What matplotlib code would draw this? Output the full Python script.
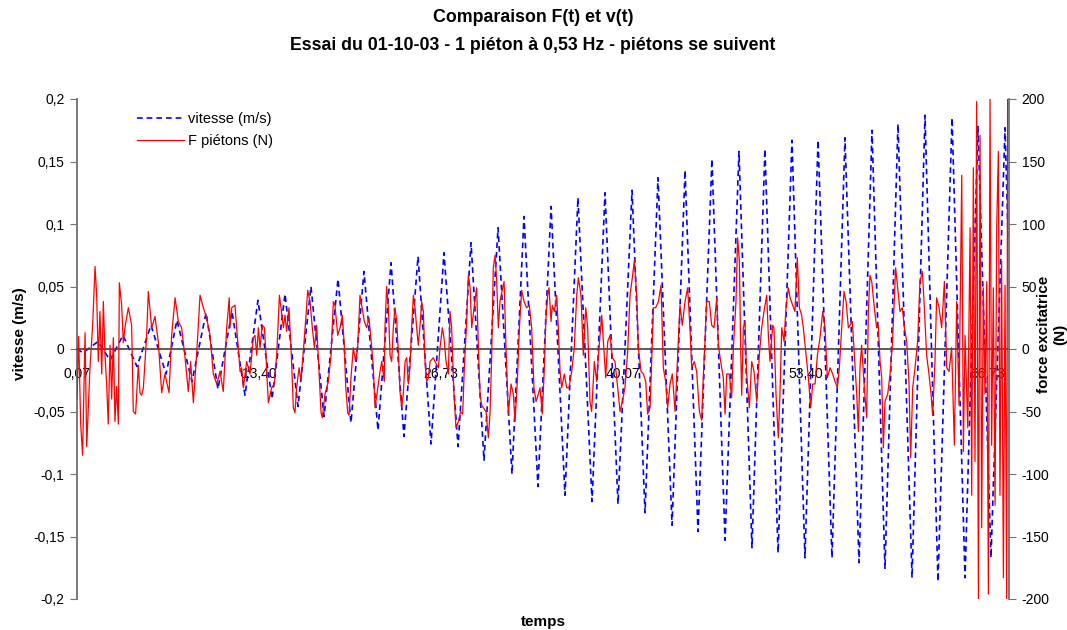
import matplotlib
matplotlib.use('Agg')
import matplotlib.pyplot as plt

plt.rcParams['font.family'] = ['Liberation Sans', 'DejaVu Sans']
plt.rcParams['axes.unicode_minus'] = False

# vitesse (m/s) : crêtes et creux
t_vit = [0.07, 0.51, 1.61, 2.49, 3.44, 4.46, 5.49, 6.59, 7.39, 8.49,
         9.52, 10.39, 11.42, 12.37, 13.32, 14.35, 15.30, 16.25, 17.20, 18.16,
         19.18, 20.13, 21.08, 22.11, 23.06, 24.01, 25.04, 25.99, 26.94, 27.97,
         28.92, 29.87, 30.90, 31.92, 32.80, 33.82, 34.78, 35.80, 36.75, 37.78,
         38.73, 39.68, 40.71, 41.66, 42.61, 43.64, 44.59, 45.54, 46.56, 47.52,
         48.54, 49.49, 50.44, 51.40, 52.42, 53.37, 54.33, 55.35, 56.30, 57.33,
         58.28, 59.23, 60.18, 61.21, 62.16, 63.11, 64.14, 65.09, 66.04, 66.99,
         68.02, 68.24]
vitesse = [0.0, -0.003, 0.006, -0.009, 0.011, -0.014, 0.019, -0.020, 0.023, -0.026,
           0.029, -0.032, 0.030, -0.037, 0.039, -0.040, 0.044, -0.046, 0.050, -0.054,
           0.056, -0.059, 0.062, -0.065, 0.069, -0.070, 0.074, -0.076, 0.077, -0.078,
           0.085, -0.089, 0.097, -0.100, 0.106, -0.110, 0.114, -0.117, 0.121, -0.122,
           0.125, -0.124, 0.127, -0.131, 0.137, -0.141, 0.143, -0.146, 0.152, -0.153,
           0.158, -0.159, 0.160, -0.163, 0.167, -0.167, 0.167, -0.167, 0.169, -0.171,
           0.175, -0.176, 0.180, -0.183, 0.187, -0.186, 0.185, -0.183, 0.178, -0.167,
           0.177, 0.09]

# force des piétons (N)
t_force = [0.07, 0.19, 0.34, 0.48, 0.66, 0.78, 1.02, 1.22, 1.39, 1.51,
           1.63, 1.75, 1.88, 2.00, 2.12, 2.24, 2.36, 2.49, 2.61, 2.73,
           2.85, 2.97, 3.10, 3.17, 3.34, 3.46, 3.58, 3.83, 4.07, 4.19,
           4.36, 4.56, 4.68, 4.80, 4.93, 5.17, 5.29, 5.54, 5.78, 6.02,
           6.27, 6.51, 6.81, 7.00, 7.25, 7.49, 7.73, 7.98, 8.22, 8.39,
           8.59, 8.83, 9.08, 9.32, 9.56, 9.81, 10.05, 10.30, 10.54, 10.78,
           11.03, 11.22,
           11.27, 11.40, 11.64, 11.76, 11.88, 12.01, 12.13, 12.25, 12.49, 12.74,
           12.98, 13.10, 13.23, 13.35, 13.47, 13.64, 13.79, 13.88, 13.96, 14.08,
           14.32, 14.52, 14.69, 14.89, 15.01, 15.18, 15.30, 15.42, 15.59, 15.74,
           15.91, 16.03, 16.15, 16.33, 16.47, 16.64, 16.84, 16.96, 17.13, 17.30,
           17.45, 17.62, 17.79, 17.94, 18.03, 18.23, 18.47, 18.67, 18.84, 18.96,
           19.16, 19.33, 19.50, 19.64, 19.74, 19.89, 19.99, 20.13, 20.30, 20.47,
           20.62, 20.79, 20.91, 21.11, 21.28, 21.45, 21.65, 21.77, 21.89, 22.09,
           22.26, 22.38, 22.57,
           22.62, 22.74, 22.87, 22.99, 23.11, 23.23, 23.35, 23.48, 23.60, 23.72,
           23.84, 23.96, 24.09, 24.21, 24.33, 24.45, 24.57, 24.70, 24.82, 24.94,
           25.06, 25.19, 25.31, 25.43, 25.55, 25.67, 25.80, 25.92, 26.16, 26.28,
           26.53, 26.65, 26.82, 26.94, 27.09, 27.26, 27.38, 27.50, 27.67, 27.82,
           27.99, 28.16, 28.31, 28.43, 28.60, 28.72, 28.85, 28.97, 29.14, 29.33,
           29.46, 29.58, 29.70, 29.82, 30.02, 30.19, 30.31, 30.43, 30.55, 30.68,
           30.80, 30.92, 31.04, 31.24, 31.34, 31.48, 31.65, 31.85, 32.02, 32.14,
           32.31, 32.46, 32.63, 32.80, 32.99, 33.19, 33.36, 33.53, 33.68, 33.85,
           33.97, 34.14, 34.29, 34.39, 34.53, 34.63, 34.78, 34.87, 35.02, 35.19,
           35.31, 35.44, 35.56, 35.75, 35.92, 36.09, 36.29, 36.48, 36.66, 36.78,
           36.97, 37.14, 37.32, 37.46, 37.63, 37.75, 37.95, 38.12, 38.29, 38.49,
           38.61, 38.78, 38.93, 39.10, 39.27, 39.46, 39.66, 39.83, 40.00, 40.19,
           40.39, 40.56, 40.73, 40.88, 41.05, 41.17, 41.37, 41.54, 41.71, 41.85,
           42.03, 42.15, 42.27, 42.44, 42.64, 42.83, 43.00, 43.17, 43.32, 43.49,
           43.66, 43.86, 44.05, 44.22, 44.39, 44.59, 44.78, 44.95, 45.08, 45.27,
           45.44, 45.64, 45.81, 45.93, 46.05, 46.17, 46.37, 46.54, 46.71, 46.91,
           47.03, 47.20, 47.39, 47.52, 47.64, 47.83, 48.00, 48.13, 48.32, 48.44,
           48.57, 48.66, 48.74, 48.86, 48.98, 49.10, 49.30, 49.47, 49.64, 49.84,
           50.03, 50.20, 50.37, 50.57, 50.69, 50.81, 51.01, 51.10, 51.25, 51.42,
           51.54, 51.67, 51.84, 51.98, 52.15, 52.28, 52.47, 52.64, 52.81, 52.96,
           53.13, 53.25, 53.45, 53.62, 53.79, 53.94, 54.11, 54.28, 54.47, 54.67,
           54.84, 55.01, 55.21, 55.40, 55.57, 55.74, 55.89, 56.06, 56.23, 56.38,
           56.55,
           56.67, 56.84, 56.99, 57.16, 57.28, 57.40, 57.52, 57.72, 57.89, 58.01,
           58.13, 58.26, 58.45, 58.62, 58.74, 58.87, 58.99, 59.11, 59.23, 59.43,
           59.60, 59.77, 59.92, 60.01, 60.16, 60.33, 60.50, 60.65, 60.82, 60.99,
           61.11, 61.26, 61.43, 61.62, 61.79, 61.97, 62.11, 62.28, 62.45, 62.60,
           62.72, 62.89, 63.01, 63.19, 63.38, 63.58, 63.75, 63.92, 64.11, 64.31,
           64.48, 64.65, 64.85, 64.97, 65.09, 65.29, 65.46, 65.58, 65.70, 65.82,
           65.94, 66.07, 66.19, 66.31, 66.43, 66.55, 66.68, 66.80, 66.92, 67.04,
           67.16, 67.29, 67.41, 67.53, 67.65, 67.77, 67.90, 68.02, 68.14, 68.21]
force = [-40, 10, -60, -85, 13, -78, -15, 20, 66, 43,
         -10, 30, -20, 38, -5, -28, -60, 3, -40, 9,
         -58, -30, -60, 53, 35, 5, 17, 33, 19, -50,
         -52, -13, -35, -37, -31, 11, 46, 17, 26, 6,
         -35, -20, -35, 11, 41, 22, 17, -7, -34, -10,
         -43, -4, 43, 33, 25, 11, -20, -28, -18, -34,
         17, 41,
         17, 33, 35, 17, 1, -18, -15, -31, -10, -20,
         9, 11, -5, 17, 1, 19, 17, 1, -18, -43,
         -31, -28, -5, 43, 33, 17, 27, 14, 33, 1,
         -47, -51, -31, -15, -25, -2, 27, 47, 38, 17,
         1, 19, -18, -51, -55, -36, -26, -5, 38, 35,
         11, 17, 27, 3, -29, -51, -53, -23, 1, -10,
         1, 43, 35, 22, 17, 25, 1, -15, -47, -31,
         -18, -10, -26,
         17, 50, 33, -5, -10, 17, 33, 22, -2, -34,
         -47, -36, -10, -7, -28, -15, 17, 43, 33, 17,
         3, 19, 38, 30, -10, -26, -23, -10, -7, -10,
         -15, 1, 17, 9, -10, -20, 30, 17, -36, -63,
         -58, -50, -52, -15, 22, 59, 49, 17, 33, 49,
         1, -36, -45, -47, -50, -71, -52, -7, 65, 75,
         54, 17, 38, 49, 54, 1, -52, -28, -36, -58,
         -26, 17, 47, 38, 33, 35, 17, -31, -42, -36,
         -31, -52, -15, 22, 43, 49, 22, 35, 30, 43,
         17, -18, -31, -20, -31, -31, -18, 1, 43, 57,
         43, -5, 33, 17, -42, -50, -10, -26, 1, 27,
         6, -23, 6, 11, -7, -10, -31, -50, -42, -31,
         -2, 43, 57, 71, 43, 1, -18, -20, -26, -52,
         -47, -10, 33, 33, 38, 51, -15, -26, -47, -28,
         -20, -50, -5, 35, 19, 38, 49, 17, -15, -10,
         -18, -50, -57, -21, 6, 38, 38, 19, 17, 41,
         3, -10, -23, -52, -20, -20, -39, 1, 38, 89,
         70, 3, -37, 17, 22, -20, -47, -10, -18, -42,
         -5, 17, 30, 43, 11, -10, 19, 17, -36, -71,
         -36, 17, 6, 33, 49, 41, 35, 30, 73, 33,
         27, 17, -5, -23, -47, -28, -28, -5, 9, 30,
         17, -23, -15, -20, -26, -31, -15, 17, 46, 38,
         17,
         19, 22, -5, -36, -66, -15, 3, -31, -55, 30,
         59, 54, 33, 17, 19, -10, -23, -79, -42, -36,
         -20, 3, 43, 65, 49, 30, 33, 17, 6, -28,
         -87, -31, -15, 6, 54, 62, 33, -5, -20, -36,
         -53, -10, 41, 33, 17, 54, -15, -18, 1, -77,
         38, -45, 139, -82, 11, -63, 97, -117, 145, -90,
         198, -200, 171, -143, 49, -36, 54, -196, 200, -77,
         49, -125, 97, 158, -117, 70, -183, 51, -200, 200]

x_ticks = [0.07, 13.40, 26.73, 40.07, 53.40, 66.73]
x_labels = ['0,07', '13,40', '26,73', '40,07', '53,40', '66,73']
v_ticks = [-0.2, -0.15, -0.1, -0.05, 0, 0.05, 0.1, 0.15, 0.2]
v_labels = ['-0,2', '-0,15', '-0,1', '-0,05', '0', '0,05', '0,1', '0,15', '0,2']
f_ticks = [-200, -150, -100, -50, 0, 50, 100, 150, 200]

fig = plt.figure(figsize=(10.67, 6.30), dpi=100)
ax = fig.add_axes([77 / 1067, 31 / 630, 932 / 1067, 500 / 630])
ax2 = ax.twinx()

l1, = ax.plot(t_vit, vitesse, color='#0000ff', lw=1.2, dashes=(3.4, 2.4),
              label='vitesse (m/s)')
l2, = ax2.plot(t_force, force, color='#ff0000', lw=0.9, label='F piétons (N)')

ax.set_xlim(0.07, 68.31)
ax.set_ylim(-0.2, 0.2)
ax2.set_ylim(-200, 200)

ax.set_xticks(x_ticks)
ax.set_xticklabels(x_labels)
ax.set_yticks(v_ticks)
ax.set_yticklabels(v_labels)
ax2.set_yticks(f_ticks)

# axe des catégories sur le zéro, comme dans Excel
ax.spines['bottom'].set_position(('data', 0))
ax.spines['bottom'].set_color('#404040')
ax.spines['bottom'].set_linewidth(1.2)
ax.spines['top'].set_visible(False)
ax.spines['right'].set_visible(False)
ax.spines['left'].set_color('#707070')
ax.spines['left'].set_linewidth(1.3)
for s in ['top', 'bottom', 'left']:
    ax2.spines[s].set_visible(False)
ax2.spines['right'].set_color('#707070')
ax2.spines['right'].set_linewidth(1.3)

ax.tick_params(axis='x', length=0, pad=13, labelsize=10)
ax.tick_params(axis='y', direction='out', length=5, color='#707070', labelsize=10, pad=4)
ax2.tick_params(axis='y', direction='out', length=5, color='#707070', labelsize=10, pad=4)

ax.set_ylabel('vitesse (m/s)', fontweight='bold', fontsize=11)
ax.yaxis.set_label_coords(-0.061, 0.53)
ax.yaxis.label.set_va('center')
ax2.set_ylabel('force excitatrice\n(N)', fontweight='bold', fontsize=11,
               multialignment='center')
ax2.yaxis.set_label_coords(1.046, 0.53)
ax2.yaxis.label.set_va('center')

fig.text(543 / 1067, 1 - 622 / 630, 'temps', ha='center', va='center',
         fontweight='bold', fontsize=11)
fig.text(533 / 1067, 1 - 18 / 630, 'Comparaison F(t) et v(t)', ha='center',
         va='center', fontweight='bold', fontsize=12.8)
fig.text(533 / 1067, 1 - 45 / 630,
         'Essai du 01-10-03 - 1 piéton à 0,53 Hz - piétons se suivent',
         ha='center', va='center', fontweight='bold', fontsize=12.8)

ax2.legend([l1, l2], ['vitesse (m/s)', 'F piétons (N)'], loc='upper left',
           bbox_to_anchor=(137 / 1067, 1 - 112 / 630), bbox_transform=fig.transFigure,
           frameon=False, fontsize=10.5, handlelength=3.2, handletextpad=0.3,
           labelspacing=0.55, borderpad=0, borderaxespad=0)

fig.savefig('out.png', dpi=100)
